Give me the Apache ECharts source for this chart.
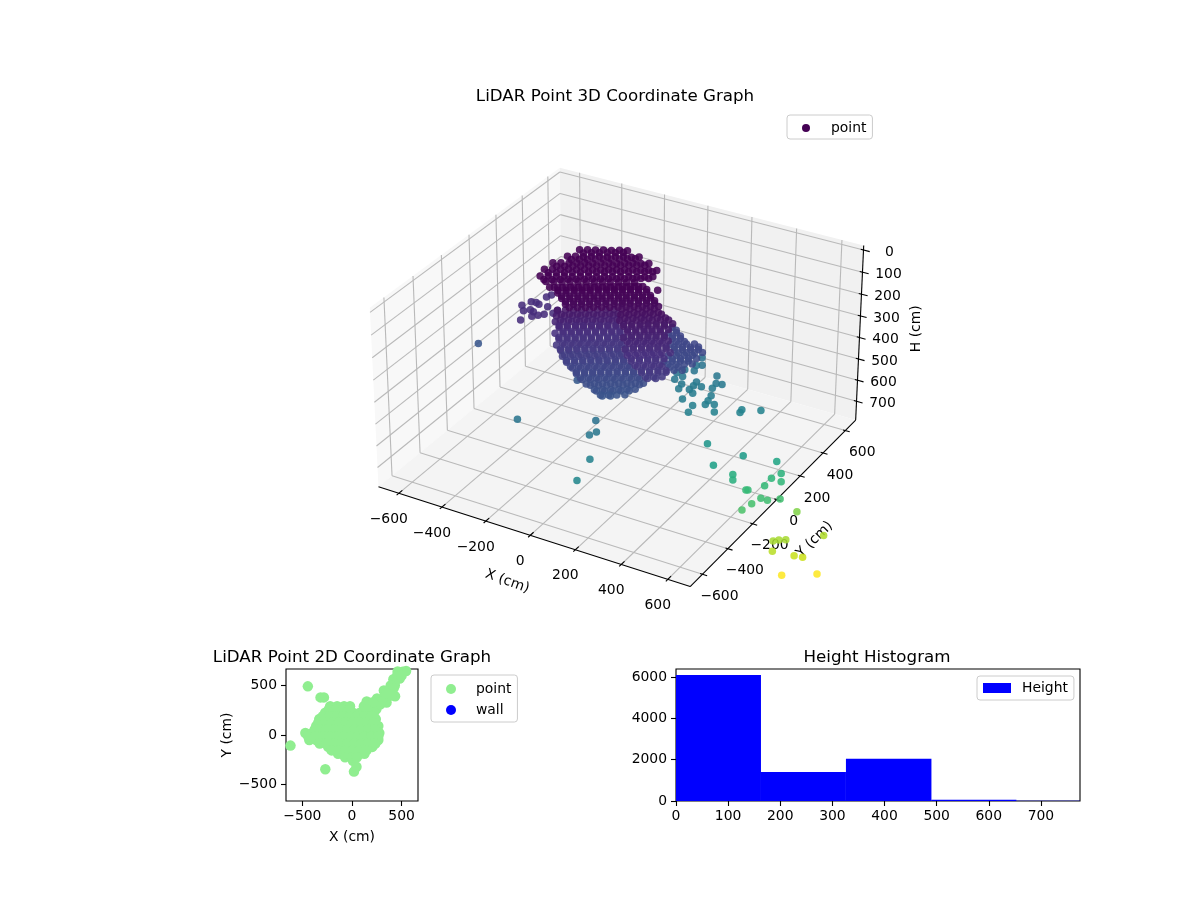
<!DOCTYPE html>
<html>
<head>
<meta charset="utf-8">
<style>html,body{margin:0;padding:0;background:#fff}#main{width:1200px;height:900px}</style>
<script src="https://cdn.jsdelivr.net/npm/echarts@6/dist/echarts.min.js"></script>
</head>
<body>
<div id="main"></div>
<script>
// 3D cloud, one row per stretch of the picture: top disc, dark band, body, left arm, strays, then the in-between rows
var pointX = [
-300,-273,-246,-219,-192,-165,-138,
-318,-291,-264,-238,-211,-184,-157,-130,-103,-77,
-344,-317,-290,-264,-237,-210,-183,-156,-130,-103,-76,-49,-22,
-349,-322,-295,-269,-242,-215,-188,-161,-135,-108,-81,-54,-27,-1,26,
-340,-313,-286,-260,-233,-206,-179,-152,-126,-99,-72,-45,-18,8,35,
-307,-280,-253,-227,-200,-173,-146,-119,-93,-66,-39,-12,
-291,-264,-237,-211,-184,-157,-130,-103,-77,-50,-23,4,
-260,-233,-206,-180,-153,-126,-99,-72,-46,-19,8,35,
-228,-201,-174,-148,-121,-94,-67,-40,-14,13,40,67,
-197,-170,-143,-117,-90,-63,-36,-9,17,44,71,98,
-232,-205,-178,-152,-125,-98,-71,-44, 3,30,57,83,110,
-225,-198,-171,-145,-118,-91,-64,-37, 13,40,67,93,120,147,
-219,-192,-165,-139,-112,-85,-58,-31, 24,51,78,104,131,158,185,
-196,-169,-142,-116,-89,-62,-35,-8, 50,77,104,130,157,184, 101,
-200,-173,-146,-120,-93,-66,-39,-12,15, 78,105,132,158,185, 106,133,
-177,-150,-123,-97,-70,-43,-16,11, 77,104,131,157,184,211, 137,164,
-175,-148,-121,-95,-68,-41,-14,13,40, 111,138,165,191,218, 148,175,202,229,
-151,-124,-97,-71,-44,-17,10,37, 111,138,165,191,218,245, 179,206,233,259,
-136,-109,-82,-56,-29,-2,25,52, 132,159,186,212,239, 177,204,231,257,
-112,-85,-58,-32,-5,22,49,76, 158,185,212,238, 180,207,234,260,
-83,-56,-29,-3,24,51,78,105, 188,215,242,268, 218,245,
-60,-33,-6,20,47,74,101,128, 211,238,265,291,
-31,-4,23,49,76,103,130,157, 241,268,
6,33,60,86,113,140,167,
35,62,89,115,142,
65,92,
-420,-391,-362,-404,-384,-367,-372,-354,-340,-323,-307,-326,-372,-363,-280,-277,
-577,-262,19,40,28,71,74,-106,105,
139,141,161,146,110,94,104,120,138,181,208,177,177,195,138,237,255,279,252,268,268,303,273,178,229,232,316,394,398,462,
301,437,347,530,395,404,538,510,549,495,448,441,501,527,563,467,444,553,
512,529,553,662,521,593,622,504,617,
-276,-249,-222,-195,-168,-141,
-294,-267,-240,-214,-187,-160,-133,-106,-79,
-320,-293,-266,-240,-213,-186,-159,-132,-106,-79,-52,-25,
-325,-298,-271,-245,-218,-191,-164,-137,-111,-84,-57,-30,-3,23,
-316,-289,-262,-236,-209,-182,-155,-128,-102,-75,-48,-21,6,32,
-283,-256,-229,-203,-176,-149,-122,-95,-69,-42,-15,12,
-267,-240,-213,-187,-160,-133,-106,-79,-53,-26,1,28,
-236,-209,-182,-156,-129,-102,-75,-48,-22,5,32,59,
-204,-177,-150,-124,-97,-70,-43,-16,10,37,64,91,
-173,-146,-119,-93,-66,-39,-12,15,41,68,95,122,
-208,-181,-154,-128,-101,-74,-47,-20, 27,54,81,107,134,
-201,-174,-147,-121,-94,-67,-40,-13, 37,64,91,117,144,171,
-195,-168,-141,-115,-88,-61,-34,-7, 48,75,102,128,155,182,209,
-172,-145,-118,-92,-65,-38,-11,16, 74,101,128,154,181,208, 125,
-176,-149,-122,-96,-69,-42,-15,12,39, 102,129,156,182,209, 130,157,
-153,-126,-99,-73,-46,-19,8,35, 101,128,155,181,208,235, 161,188,
-151,-124,-97,-71,-44,-17,10,37,64, 135,162,189,215,242, 172,199,226,253,
-127,-100,-73,-47,-20,7,34,61, 135,162,189,215,242,269, 203,230,257,283,
-112,-85,-58,-32,-5,22,49,76, 156,183,210,236,263, 201,228,255,281,
-88,-61,-34,-8,19,46,73,100, 182,209,236,262, 204,231,258,284,
-59,-32,-5,21,48,75,102,129, 212,239,266,292, 242,269,
-36,-9,18,44,71,98,125,152, 235,262,289,
-7,20,47,73,100,127,154,181,
30,57,84,110,137,164,
59,86,113,139
];
var pointY = [
189,205,221,237,253,270,286,
126,142,158,175,191,207,224,240,256,272,
58,74,91,107,123,139,156,172,188,205,221,237,253,
2,18,35,51,67,84,100,116,133,149,165,182,198,214,231,
-45,-29,-12,4,20,37,53,69,86,102,118,135,151,167,184,
-57,-41,-24,-8,8,25,41,57,73,90,106,122,
-21,-5,12,28,44,61,77,93,110,126,142,159,
-45,-29,-13,4,20,36,53,69,85,102,118,134,
-69,-53,-37,-20,-4,12,29,45,61,78,94,110,
-93,-77,-61,-44,-28,-12,5,21,37,54,70,86,
-96,-80,-64,-47,-31,-15,2,18, -2,14,31,47,63,
-115,-99,-83,-66,-50,-34,-17,-1, -28,-12,5,21,37,54,
-134,-118,-101,-85,-69,-52,-36,-20, -55,-39,-22,-6,10,27,43,
-143,-127,-111,-94,-78,-62,-45,-29, -71,-55,-38,-22,-6,11, 225,
-168,-152,-136,-119,-103,-87,-70,-54,-38, -87,-71,-54,-38,-22, 185,201,
-177,-161,-145,-128,-112,-96,-79,-63, -120,-104,-87,-71,-55,-38, 161,177,
-199,-183,-167,-150,-134,-118,-101,-85,-69, -132,-116,-99,-83,-67, 125,141,158,174,
-207,-191,-175,-158,-142,-126,-109,-93, -165,-149,-132,-116,-100,-83, 102,118,135,151,
-220,-204,-188,-171,-155,-139,-122,-106, -185,-169,-152,-136,-120, 58,74,91,107,
-229,-213,-197,-180,-164,-148,-131,-115, -201,-185,-168,-152, 18,34,51,67,
-234,-218,-202,-185,-169,-153,-136,-120, -205,-189,-172,-156, -2,14,
-243,-227,-211,-194,-178,-162,-145,-129, -214,-198,-181,-165,
-248,-232,-216,-199,-183,-167,-150,-134, -220,-204,
-249,-233,-217,-200,-184,-168,-151,
-253,-237,-221,-204,-188,
-260,-244,
-55,-90,-159,-11,-7,-14,-70,-77,-111,-92,-73,-15,52,75,-49,-21,
-135,-355,-232,-263,-296,-366,-469,-161,98,
406,355,367,329,316,279,244,280,240,284,276,267,233,228,216,352,312,317,286,247,222,209,190,175,166,126,186,271,248,304,
161,209,128,322,204,188,349,319,329,290,236,232,248,255,296,235,196,474,
347,365,380,507,325,380,400,452,553,
178,194,210,226,242,259,
115,131,147,164,180,196,213,229,245,
47,63,80,96,112,128,145,161,177,194,210,226,
-9,7,24,40,56,73,89,105,122,138,154,171,187,203,
-56,-40,-23,-7,9,26,42,58,75,91,107,124,140,156,
-68,-52,-35,-19,-3,14,30,46,62,79,95,111,
-32,-16,1,17,33,50,66,82,99,115,131,148,
-56,-40,-24,-7,9,25,42,58,74,91,107,123,
-80,-64,-48,-31,-15,1,18,34,50,67,83,99,
-104,-88,-72,-55,-39,-23,-6,10,26,43,59,75,
-107,-91,-75,-58,-42,-26,-9,7, -13,3,20,36,52,
-126,-110,-94,-77,-61,-45,-28,-12, -39,-23,-6,10,26,43,
-145,-129,-112,-96,-80,-63,-47,-31, -66,-50,-33,-17,-1,16,32,
-154,-138,-122,-105,-89,-73,-56,-40, -82,-66,-49,-33,-17,0, 214,
-179,-163,-147,-130,-114,-98,-81,-65,-49, -98,-82,-65,-49,-33, 174,190,
-188,-172,-156,-139,-123,-107,-90,-74, -131,-115,-98,-82,-66,-49, 150,166,
-210,-194,-178,-161,-145,-129,-112,-96,-80, -143,-127,-110,-94,-78, 114,130,147,163,
-218,-202,-186,-169,-153,-137,-120,-104, -176,-160,-143,-127,-111,-94, 91,107,124,140,
-231,-215,-199,-182,-166,-150,-133,-117, -196,-180,-163,-147,-131, 47,63,80,96,
-240,-224,-208,-191,-175,-159,-142,-126, -212,-196,-179,-163, 7,23,40,56,
-245,-229,-213,-196,-180,-164,-147,-131, -216,-200,-183,-167, -13,3,
-254,-238,-222,-205,-189,-173,-156,-140, -225,-209,-192,
-259,-243,-227,-210,-194,-178,-161,-145,
-260,-244,-228,-211,-195,-179,
-264,-248,-232,-215
];
var pointH = [
30,30,32,32,34,34,36,
35,35,38,38,38,40,40,40,42,42,
40,40,42,42,42,44,44,44,46,46,46,48,48,
45,45,46,46,48,48,50,50,50,52,52,52,54,54,56,
50,50,52,52,54,54,54,56,56,58,58,58,60,60,60,
60,60,62,62,62,64,64,64,66,66,68,68,
100,100,100,100,100,100,100,100,100,100,100,100,
105,105,105,105,105,105,105,105,105,105,105,105,
110,110,110,110,110,110,110,110,110,110,110,110,
115,115,115,115,115,115,115,115,115,115,115,115,
150,150,150,150,150,150,150,150, 125,125,125,125,125,
165,165,165,165,165,165,165,165, 135,135,135,135,135,135,
180,180,180,180,180,180,180,180, 145,145,145,145,145,145,145,
195,195,195,195,195,195,195,195, 155,155,155,155,155,155, 290,
210,210,210,210,210,210,210,210,210, 165,165,165,165,165, 295,295,
225,225,225,225,225,225,225,225, 175,175,175,175,175,175, 300,300,
240,240,240,240,240,240,240,240,240, 185,185,185,185,185, 305,305,305,305,
255,255,255,255,255,255,255,255, 195,195,195,195,195,195, 310,310,310,310,
270,270,270,270,270,270,270,270, 205,205,205,205,205, 315,315,315,315,
285,285,285,285,285,285,285,285, 215,215,215,215, 320,320,320,320,
300,300,300,300,300,300,300,300, 230,230,230,230, 325,325,
315,315,315,315,315,315,315,315, 245,245,245,245,
330,330,330,330,330,330,330,330, 260,260,
345,345,345,345,345,345,345,
360,360,360,360,360,
370,370,
200,200,200,200,200,200,200,200,200,200,200,200,200,200,200,200,
380,525,510,540,540,600,640,400,60,
510,520,520,530,530,530,540,540,550,550,560,560,560,570,560,540,550,550,560,570,580,580,580,575,585,595,600,610,610,610,
740,780,810,840,880,895,910,925,935,950,955,955,985,990,995,1015,1030,1160,
1245,1245,1245,1260,1280,1310,1320,1480,1495,
33,33,33,33,33,33,
38,38,38,38,38,38,38,38,38,
44,44,44,44,44,44,44,44,44,44,44,44,
49,49,49,49,49,49,49,49,49,49,49,49,49,49,
55,55,55,55,55,55,55,55,55,55,55,55,55,55,
75,75,75,75,75,75,75,75,75,75,75,75,
102,102,102,102,102,102,102,102,102,102,102,102,
108,108,108,108,108,108,108,108,108,108,108,108,
112,112,112,112,112,112,112,112,112,112,112,112,
118,118,118,118,118,118,118,118,118,118,118,118,
157,157,157,157,157,157,157,157, 130,130,130,130,130,
172,172,172,172,172,172,172,172, 140,140,140,140,140,140,
187,187,187,187,187,187,187,187, 150,150,150,150,150,150,150,
202,202,202,202,202,202,202,202, 160,160,160,160,160,160, 292,
217,217,217,217,217,217,217,217,217, 170,170,170,170,170, 297,297,
232,232,232,232,232,232,232,232, 180,180,180,180,180,180, 302,302,
247,247,247,247,247,247,247,247,247, 190,190,190,190,190, 307,307,307,307,
262,262,262,262,262,262,262,262, 200,200,200,200,200,200, 312,312,312,312,
277,277,277,277,277,277,277,277, 210,210,210,210,210, 317,317,317,317,
292,292,292,292,292,292,292,292, 222,222,222,222, 322,322,322,322,
307,307,307,307,307,307,307,307, 237,237,237,237, 327,327,
322,322,322,322,322,322,322,322, 252,252,252,
337,337,337,337,337,337,337,337,
352,352,352,352,352,352,
365,365,365,365
];
var heightColors = ['#440154','#440154','#472f7d','#3f4788','#365c8d','#2c728e','#25848e','#21918c','#1fa187','#2fb47c','#4ac16d','#73d056','#a0da39','#d0e11c','#fde725'];
var xyTicks = [-600,-400,-200,0,200,400,600];
var hTicks = [0,100,200,300,400,500,600,700];

// flat 2D view
var flatX = [510,459,417,431,434,348,321,390,252,183,286,148,355,545,245,
330,480,430,460,390,300,420,500,400,210,350,
-445,-620,-269,20,-283,-317,10,45,
-220,-150,-80,-20,120,
-270,-200,-130,-60,10,80,150,220,
-330,-260,-190,-120,-50,20,90,160,240,
-360,-290,-220,-150,-80,-10,60,130,200,265,
-470,-400,-330,-260,-190,-120,-50,20,90,160,230,275,
-430,-360,-290,-220,-150,-80,-10,60,130,200,265,
-240,-170,-100,-30,40,110,205,
-140,-80,-10,60,125,
-235,-165,-95,-25,150,
-295,-225,-155,-85,-15,55,125,195,
-340,-275,-205,-135,-65,5,75,145,215,
-375,-325,-255,-185,-115,-45,25,95,165,235,
-440,-365,-295,-225,-155,-85,-15,55,125,195,265,
-325,-255,-185,-115,-45,25,95,165,235,
-205,-135,-65,5,75,145,
-70,0,50];
var flatY = [638,610,562,500,390,328,448,431,369,310,310,338,379,645,259,
390,570,530,640,500,340,470,600,400,330,420,
490,-107,-345,-369,379,379,-260,-320,
290,290,290,290,290,
225,225,225,225,225,225,225,225,
160,160,160,160,160,160,160,160,160,
90,90,90,90,90,90,90,90,90,90,
20,20,20,20,20,20,20,20,20,20,20,20,
-50,-50,-50,-50,-50,-50,-50,-50,-50,-50,-50,
-120,-120,-120,-120,-120,-120,-120,
-190,-190,-190,-190,-190,
255,255,255,255,255,
190,190,190,190,190,190,190,190,
125,125,125,125,125,125,125,125,125,
55,55,55,55,55,55,55,55,55,55,
-15,-15,-15,-15,-15,-15,-15,-15,-15,-15,-15,
-85,-85,-85,-85,-85,-85,-85,-85,-85,
-155,-155,-155,-155,-155,-155,
-225,-225,-225];
var flatTicks = [-500,0,500];

// histogram
var binEdges = [0,163,326,490,653,775];
var binCounts = [6100,1400,2050,60,15];
var histXTicks = [0,100,200,300,400,500,600,700];
var histYTicks = [0,2000,4000,6000];

var FONT = '"DejaVu Sans"';
var limXY = 695, hTop = -20, hBottom = 790;

// same camera as a default mplot3d view: elev 30, azim -60, dist 10
function project(x,y,h){
    var cx = x/limXY*0.595, cy = y/limXY*0.595;
    var cz = ((hTop+hBottom)/2-h)/((hBottom-hTop)/2)*0.344;
    var xv = 0.866*cx+0.5*cy;
    var yv = -0.25*cx+0.433*cy+0.866*cz;
    var depth = 10-(0.433*cx-0.75*cy+0.5*cz);
    return [xv/depth,yv/depth,depth];
}

function minus(v){
    return String(v).replace('-','\u2212');
}

var cloud = [];
for(var i=0;i<pointX.length;i++){
    var p = project(pointX[i],pointY[i],pointH[i]);
    cloud.push([p[0],p[1],pointH[i],p[2]]);
}
// far points first
cloud.sort(function(a,b){return b[3]-a[3];});

var flat = [];
for(var j=0;j<flatX.length;j++){
    flat.push([flatX[j],flatY[j]]);
}

function renderBox(params,api){
    var kids = [];
    function at(x,y,h){
        var p = project(x,y,h);
        return api.coord([p[0],p[1]]);
    }
    function pane(a,b,c,d,color){
        kids.push({type:'polygon',shape:{points:[a,b,c,d]},style:{fill:color}});
    }
    function seg(a,b,color,width){
        kids.push({type:'line',shape:{x1:a[0],y1:a[1],x2:b[0],y2:b[1]},style:{stroke:color,lineWidth:width}});
    }
    function txt(a,dx,dy,text,rot){
        kids.push({type:'text',x:a[0]+dx,y:a[1]+dy,rotation:rot||0,
            style:{text:text,align:'center',verticalAlign:'middle',fill:'#000',font:'13.9px '+FONT}});
    }
    var L = limXY;
    pane(at(-L,-L,hTop),at(-L,-L,hBottom),at(-L,L,hBottom),at(-L,L,hTop),'#f8f8f8');
    pane(at(-L,L,hTop),at(-L,L,hBottom),at(L,L,hBottom),at(L,L,hTop),'#f1f1f1');
    pane(at(-L,-L,hBottom),at(L,-L,hBottom),at(L,L,hBottom),at(-L,L,hBottom),'#f4f4f4');
    var grid = '#b9b9b9';
    xyTicks.forEach(function(t){
        seg(at(t,-L,hBottom),at(t,L,hBottom),grid,1.1);
        seg(at(t,L,hBottom),at(t,L,hTop),grid,1.1);
        seg(at(-L,t,hBottom),at(L,t,hBottom),grid,1.1);
        seg(at(-L,t,hBottom),at(-L,t,hTop),grid,1.1);
    });
    hTicks.forEach(function(t){
        seg(at(-L,-L,t),at(-L,L,t),grid,1.1);
        seg(at(-L,L,t),at(L,L,t),grid,1.1);
    });
    seg(at(-L,-L,hBottom),at(L,-L,hBottom),'#000',1.1);
    seg(at(L,-L,hBottom),at(L,L,hBottom),'#000',1.1);
    seg(at(L,L,hBottom),at(L,L,hTop),'#000',1.1);
    xyTicks.forEach(function(t){
        seg(at(t,-L-15,hBottom),at(t,-L+25,hBottom),'#000',1.1);
        txt(at(t,-L,hBottom),-10,26,minus(t));
        seg(at(L-10,t,hBottom),at(L+20,t,hBottom),'#000',1.1);
        txt(at(L,t,hBottom),17,22,minus(t));
    });
    hTicks.forEach(function(t){
        seg(at(L-12,L,t),at(L+27,L,t),'#000',1.1);
        txt(at(L,L,t),26,2,String(t));
    });
    txt(at(0,-L,hBottom),-23,46,'X (cm)',-0.35);
    txt(at(L,0,hBottom),38,40,'Y (cm)',0.785);
    txt(at(L,L,350),56,2,'H (cm)',1.571);
    return {type:'group',children:kids};
}

function renderBins(params,api){
    var lo = api.coord([api.value(0),0]);
    var hi = api.coord([api.value(1),api.value(2)]);
    return {type:'rect',shape:{x:lo[0],y:hi[1],width:hi[0]-lo[0],height:lo[1]-hi[1]},style:{fill:'#0000ff'}};
}

var binData = [];
for(var k=0;k<binCounts.length;k++){
    binData.push([binEdges[k],binEdges[k+1],binCounts[k]]);
}

function valueAxis(index,min,max,ticks,name,gap,margin,labelPad){
    return {
        type:'value',gridIndex:index,min:min,max:max,name:name,nameLocation:'middle',nameGap:gap,
        axisLine:{show:false,onZero:false},
        splitLine:{show:false},
        axisTick:{show:true,length:5,customValues:ticks,lineStyle:{color:'#000',width:1.1}},
        axisLabel:{show:true,customValues:ticks,color:'#000',fontSize:13.9,fontFamily:FONT,margin:margin,padding:labelPad,
            hideOverlap:false,showMinLabel:true,showMaxLabel:true,formatter:function(v){return minus(v);}},
        nameTextStyle:{color:'#000',fontSize:13.9,fontFamily:FONT}
    };
}
function titleAt(text,x,y){
    return {text:text,left:x,top:y,textAlign:'center',textStyle:{color:'#000',fontWeight:'normal',fontSize:16.7,fontFamily:FONT}};
}
function legendBox(left,top,items,icon,w,h,pad,textLeft,gap){
    return {left:left,top:top,orient:'vertical',data:items,icon:icon,itemWidth:w,itemHeight:h,itemGap:gap,
        padding:pad,backgroundColor:'#fff',borderColor:'#ccc',borderWidth:1,borderRadius:3,selectedMode:false,
        textStyle:{color:'#000',fontSize:13.9,fontFamily:FONT,padding:[0,0,0,textLeft]}};
}

var myChart = echarts.init(document.getElementById('main'),null,{renderer:'canvas'});
myChart.setOption({
    backgroundColor:'#fff',
    animation:false,
    title:[
        titleAt('LiDAR Point 3D Coordinate Graph',610,83),
        titleAt('LiDAR Point 2D Coordinate Graph',347,644),
        titleAt('Height Histogram',872,644)
    ],
    legend:[
        legendBox(787,115,[{name:'point',itemStyle:{color:'#440154',opacity:1}}],'circle',8,8,[6,6,4,15],16,7),
        legendBox(431,675,[{name:'point',itemStyle:{color:'#90ee90',opacity:1}},{name:'wall',itemStyle:{color:'#0000ff',opacity:1}}],'circle',10,10,[7,6,5,15],15,7),
        legendBox(977,676,[{name:'Height',itemStyle:{color:'#0000ff',opacity:1}}],'rect',28,10,[5,6,5,6],6,7)
    ],
    grid:[
        {left:340,top:130,width:620,height:500,show:false},
        {left:286,top:669,width:132,height:132,show:true,borderColor:'#000',borderWidth:1.1,backgroundColor:'transparent'},
        {left:676,top:669,width:404,height:132,show:true,borderColor:'#000',borderWidth:1.1,backgroundColor:'transparent'}
    ],
    xAxis:[
        {type:'value',gridIndex:0,min:(340-621.5)/2985,max:(960-621.5)/2985,show:false},
        valueAxis(1,-665,665,flatTicks,'X (cm)',29,8,0),
        valueAxis(2,0,775,histXTicks,'',29,8,0)
    ],
    yAxis:[
        {type:'value',gridIndex:0,min:(366-630)/2965,max:(366-130)/2965,show:false},
        valueAxis(1,-665,665,flatTicks,'Y (cm)',52,9,[3,0,0,0]),
        valueAxis(2,0,6387,histYTicks,'',40,9,[3,0,0,0])
    ],
    visualMap:{show:false,seriesIndex:1,dimension:2,min:0,max:1430,inRange:{color:heightColors}},
    series:[
        {type:'custom',name:'box',xAxisIndex:0,yAxisIndex:0,data:[[0,0]],renderItem:renderBox,clip:false,silent:true,z:1},
        {type:'scatter',name:'point',xAxisIndex:0,yAxisIndex:0,data:cloud,symbolSize:7.5,clip:false,z:2,
            itemStyle:{color:'#440154',opacity:0.88}},
        {type:'scatter',name:'point',xAxisIndex:1,yAxisIndex:1,data:flat,symbolSize:10.5,z:2,itemStyle:{color:'#90ee90',opacity:1}},
        {type:'scatter',name:'wall',xAxisIndex:1,yAxisIndex:1,data:[],itemStyle:{color:'#0000ff',opacity:1}},
        {type:'custom',name:'Height',xAxisIndex:2,yAxisIndex:2,data:binData,renderItem:renderBins,
            encode:{x:[0,1],y:2},itemStyle:{color:'#0000ff'},z:2}
    ]
});
</script>
</body>
</html>
